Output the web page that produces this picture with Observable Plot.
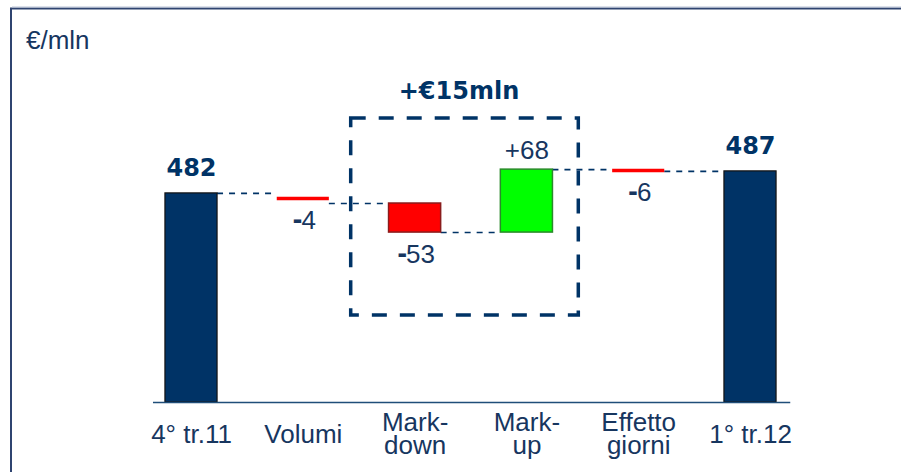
<!DOCTYPE html>
<html>
<head>
<meta charset="utf-8">
<script src="https://cdn.jsdelivr.net/npm/d3@7"></script>
<script src="https://cdn.jsdelivr.net/npm/@observablehq/plot@0.6"></script>
<style>
  html, body { margin: 0; padding: 0; background: #fff; overflow: hidden; }
  #wrap { position: relative; width: 901px; height: 472px; overflow: hidden; background: #fff; }
  #frame { position: absolute; left: 0; top: 0; }
  #unit { position: absolute; left: 26px; top: 27px; font: 26px/1 "Liberation Sans", Arial, sans-serif; color: #17365f; }
  #chart { position: absolute; left: 0; top: 0; }
</style>
</head>
<body>
<div id="wrap">
  <svg id="frame" width="901" height="472">
    <path d="M11,472V8.5H905" fill="none" stroke="#2f4470" stroke-width="2"/>
    <path d="M12,7H905" fill="none" stroke="#b8c2d6" stroke-width="1"/>
  </svg>
  <div id="unit">€/mln</div>
  <div id="chart"></div>
</div>
<script>
// ---- data ----
const categories = ["4° tr.11", "Volumi", "Mark-\ndown", "Mark-\nup", "Effetto\ngiorni", "1° tr.12"];
const values = [482, -4, -53, 68, -6, 487];
const valueLabels = ["482", "-4", "-53", "+68", "-6", "487"];
const kinds = ["total", "delta", "delta", "delta", "delta", "total"];
// schematic (not-to-scale) levels at which each step is drawn (broken axis, €mln)
const axisBase = 434.5;
const drawnFrom = [434.5, 482, 479.7, 473.1, 487.4, 434.5];
const drawnTo = [482, 479.7, 473.1, 487.4, 487.0, 487];
const groupedSteps = ["Mark-\ndown", "Mark-\nup"];
const groupLabel = "+€15mln";

// ---- build rows ----
const rows = categories.map((c, i) => ({
  i, cat: c, value: values[i], label: valueLabels[i], kind: kinds[i],
  lo: Math.min(drawnFrom[i], drawnTo[i]), hi: Math.max(drawnFrom[i], drawnTo[i]),
  mid: (drawnFrom[i] + drawnTo[i]) / 2
}));
const hw = 0.233;
const totals = rows.filter(d => d.kind === "total");
const deltas = rows.filter(d => d.kind === "delta");
const bigDeltas = deltas.filter(d => Math.abs(d.value) >= 10);
const smallDeltas = deltas.filter(d => Math.abs(d.value) < 10);
const negatives = deltas.filter(d => d.value < 0).map(d => ({
  ...d, sign: d.label.slice(0, 1), digits: d.label.slice(1),
  ly: Math.abs(d.value) < 10 ? d.mid : d.lo
}));
const connectors = rows.slice(0, -1).map((d, k) => ({ i: d.i, y: drawnTo[k] }));
const grp = rows.filter(d => groupedSteps.includes(d.cat));
const box = [{
  x1: d3.min(grp, d => d.i) - 0.5, x2: d3.max(grp, d => d.i) + 0.5,
  y1: d3.min(grp, d => d.lo), y2: d3.max(grp, d => d.hi)
}];

const navy = "#003366";
const textNavy = "#17365f";
const reg = "Liberation Sans, Arial, sans-serif";
const bold = "DejaVu Sans, Verdana, sans-serif";
const fs = 26, digitW = 0.556 * fs, signW = 0.42 * fs;

// bold sign marks, one per digit count so the offset is a constant per mark
const signMarks = d3.groups(negatives, d => d.digits.length).map(([n, arr]) =>
  Plot.text(arr, { x: "i", y: "ly", text: "sign", dy: 22, lineAnchor: "middle", textAnchor: "end",
    dx: -(n * digitW) / 2 + signW / 2 + 1, fontFamily: bold, fontSize: 24, fontWeight: "bold", fill: textNavy }));

const chart = Plot.plot({
  width: 901, height: 472,
  marginLeft: 191, marginRight: 151, marginTop: 8, marginBottom: 70,
  x: { domain: [0, categories.length - 1], axis: null },
  y: { domain: [axisBase, 524], axis: null },
  style: { fontFamily: reg, color: textNavy, background: "transparent", overflow: "visible" },
  marks: [
    // connectors
    Plot.ruleY(connectors, { y: "y", x1: d => d.i + hw, x2: d => d.i + 1 - hw,
      stroke: navy, strokeWidth: 1.6, strokeDasharray: "6,6" }),
    // totals
    Plot.rect(totals, { x1: d => d.i - hw, x2: d => d.i + hw, y1: axisBase, y2: "hi",
      fill: navy, stroke: "#111", strokeWidth: 1.2 }),
    // big deltas
    Plot.rect(bigDeltas, { x1: d => d.i - hw, x2: d => d.i + hw, y1: "lo", y2: "hi",
      fill: d => d.value < 0 ? "#ff0000" : "#00ff00",
      stroke: d => d.value < 0 ? "#8a1c1c" : "#2a8a2a", strokeWidth: 1.5 }),
    // small deltas as lines
    Plot.ruleY(smallDeltas, { y: "mid", x1: d => d.i - hw, x2: d => d.i + hw,
      stroke: "#ff0000", strokeWidth: 3.5 }),
    // baseline
    Plot.ruleY([axisBase], { x1: -0.34, x2: categories.length - 1 + 0.36, stroke: "#1f4e79", strokeWidth: 1.5 }),
    // grouping box
    Plot.rect(box, { x1: "x1", x2: "x2", y1: "y1", y2: "y2",
      insetTop: -51, insetBottom: -83, insetLeft: -8, insetRight: 4,
      fill: "none", stroke: navy, strokeWidth: 3.5, strokeDasharray: "15,13" }),
    Plot.text(box, { x: d => (d.x1 + d.x2) / 2, y: "y2", text: () => groupLabel, dy: -78, dx: -12,
      fontFamily: bold, fontWeight: "bold", fontSize: 24, fill: navy, lineAnchor: "middle" }),
    // value labels
    Plot.text(totals, { x: "i", y: "hi", text: "label", dy: -25, lineAnchor: "middle",
      fontFamily: bold, fontWeight: "bold", fontSize: 24, fill: navy }),
    Plot.text(deltas.filter(d => d.value > 0), { x: "i", y: "hi", text: "label", dy: -19, lineAnchor: "middle",
      fontSize: fs, fill: textNavy }),
    // negative labels: bold sign + regular digits
    Plot.text(negatives, { x: "i", y: "ly", text: "digits", dy: 22, dx: signW / 2, lineAnchor: "middle",
      fontSize: fs, fill: textNavy }),
    ...signMarks,
    // category labels
    Plot.text(rows, { x: "i", frameAnchor: "bottom", text: "cat", dy: 33, lineAnchor: "middle",
      lineHeight: 0.87, fontSize: 26, fill: textNavy })
  ]
});
document.getElementById("chart").appendChild(chart);
</script>
</body>
</html>
